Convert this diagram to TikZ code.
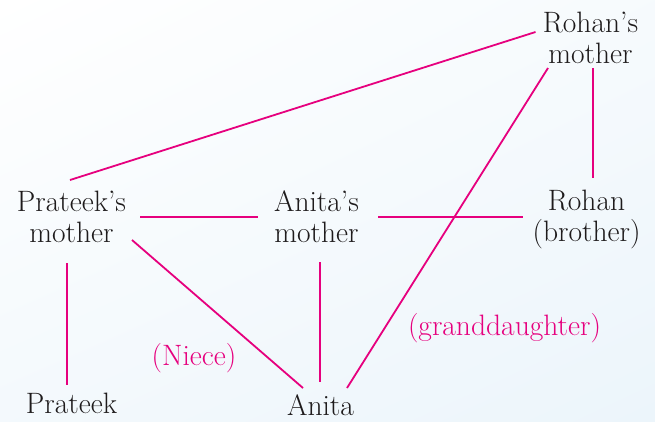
\documentclass[tikz,border=0pt]{standalone}
\usetikzlibrary{shadings}
\definecolor{rel}{RGB}{230,0,126}
\definecolor{ink}{RGB}{30,27,28}
\definecolor{bgblue}{RGB}{236,245,251}
\begin{document}
\begin{tikzpicture}[x=1pt,y=-1pt,
  person/.style={anchor=base,align=center,inner sep=0pt,text=ink,font=\fontsize{29.5}{31}\selectfont},
  tag/.style={anchor=base,inner sep=0pt,text=rel,font=\fontsize{29.5}{31}\selectfont},
  link/.style={draw=rel,line width=1.8pt}]
\shade[upper left=white,upper right=bgblue!45,lower left=bgblue!60,lower right=bgblue] (0,0) rectangle (655,421);
\useasboundingbox (0,0) rectangle (655,421);
\node[person] (rm) at (590.5,63) {Rohan's\\mother};
\node[person] (pm) at (71.5,242) {Prateek's\\mother};
\node[person] (am) at (316.5,242) {Anita's\\mother};
\node[person] (rb) at (586.5,241) {Rohan\\(brother)};
\node[person] (pr) at (71.5,413) {Prateek};
\node[person] (an) at (320.5,415.5) {Anita};
\node[tag] (niece) at (194,365) {(Niece)};
\node[tag] (gd) at (504.5,335) {(granddaughter)};
\draw[link] ([shift={(-55,-31)}]rm.base) -- ([shift={(-1.5,-62)}]pm.base);
\draw[link] ([shift={(-42.5,5)}]rm.base) -- ([shift={(26.5,-27.5)}]an.base);
\draw[link] ([shift={(2.5,5)}]rm.base) -- ([shift={(6.5,-63)}]rb.base);
\draw[link] ([shift={(68.5,-25)}]pm.base) -- ([shift={(-58.5,-25)}]am.base);
\draw[link] ([shift={(61.5,-25)}]am.base) -- ([shift={(-63.5,-24)}]rb.base);
\draw[link] ([shift={(-4.5,21)}]pm.base) -- ([shift={(-4.5,-28)}]pr.base);
\draw[link] ([shift={(60.5,-2)}]pm.base) -- ([shift={(-17.5,-27.5)}]an.base);
\draw[link] ([shift={(3.5,20)}]am.base) -- ([shift={(-0.5,-33.5)}]an.base);
\end{tikzpicture}
\end{document}
